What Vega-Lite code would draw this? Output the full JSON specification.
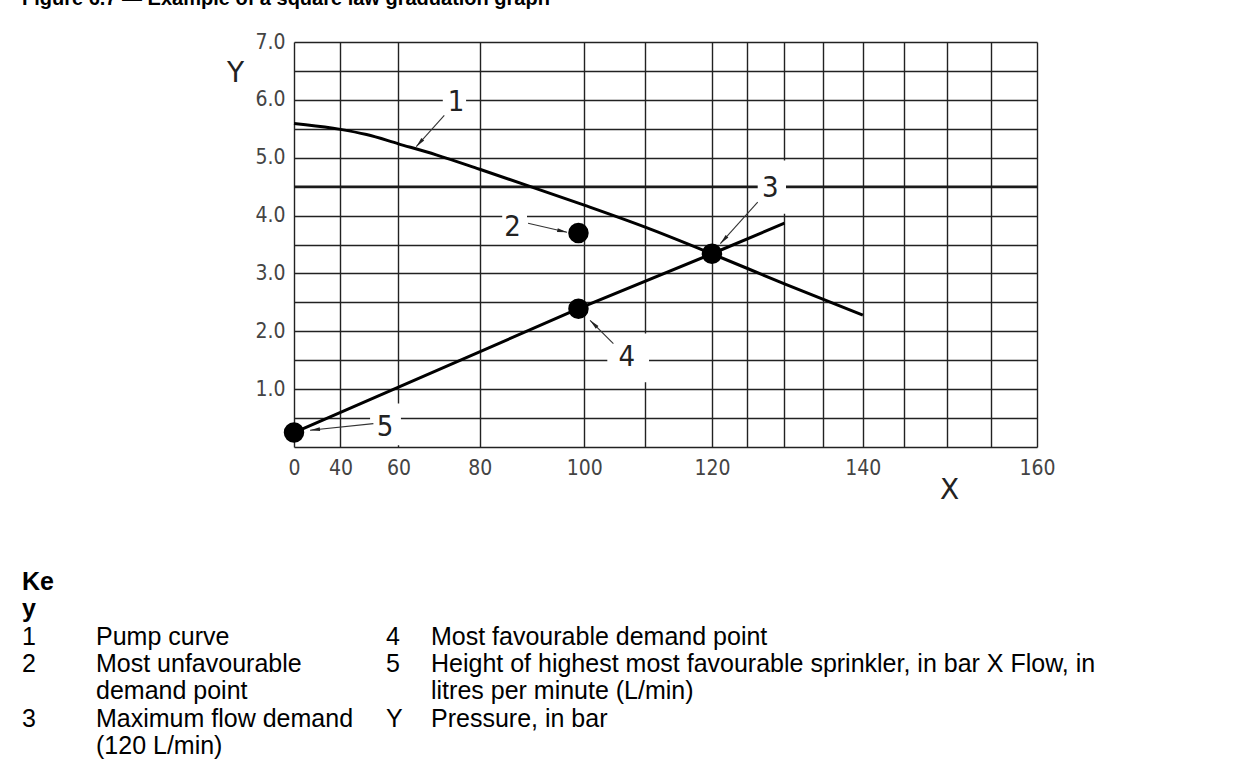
{
  "$schema": "https://vega.github.io/schema/vega-lite/v6.json",
  "background": "white",
  "padding": {"left": 22, "top": -11, "right": 0, "bottom": 0},
  "title": {
    "text": "Figure 6.7 — Example of a square law graduation graph",
    "anchor": "start",
    "frame": "group",
    "font": "Liberation Sans",
    "fontSize": 20,
    "fontWeight": "bold",
    "color": "black",
    "offset": 22
  },
  "config": {
    "view": {"stroke": null},
    "axis": {
      "grid": true,
      "ticks": false,
      "domain": false,
      "gridColor": "#222",
      "gridWidth": 1.4,
      "gridOpacity": 1,
      "labelFont": "DejaVu Sans Condensed, Liberation Sans Narrow, DejaVu Sans",
      "labelFontSize": 21,
      "labelColor": "#444",
      "labelFlush": false,
      "labelOverlap": false,
      "titleFont": "DejaVu Sans, Liberation Sans",
      "titleFontSize": 28,
      "titleFontWeight": "normal",
      "titleColor": "#222",
      "titleAlign": "center",
      "titleBaseline": "middle"
    }
  },
  "datasets": {
    "pump": [
      {"q": 0, "p": 5.59}, {"q": 20, "p": 5.57}, {"q": 40, "p": 5.49}, {"q": 50, "p": 5.40},
      {"q": 60, "p": 5.24}, {"q": 70, "p": 5.05}, {"q": 80, "p": 4.80}, {"q": 90, "p": 4.51},
      {"q": 100, "p": 4.18}, {"q": 110, "p": 3.80}, {"q": 120, "p": 3.34}, {"q": 130, "p": 2.82},
      {"q": 140, "p": 2.28}
    ],
    "demand": [
      {"q": 0, "p": 0.25}, {"q": 99, "p": 2.39}, {"q": 120, "p": 3.34}, {"q": 130, "p": 3.87}
    ],
    "points": [
      {"id": "2", "q": 99, "p": 3.70},
      {"id": "3", "q": 120, "p": 3.34},
      {"id": "4", "q": 99, "p": 2.39},
      {"id": "5", "q": 0, "p": 0.25}
    ],
    "limit": [
      {"q": 0, "q2": 160, "p": 4.5}
    ],
    "boxes": [
      {"id": "1", "q": 71.6, "q2": 77.0, "p": 5.72, "p2": 6.22},
      {"id": "2", "q": 84.7, "q2": 89.6, "p": 3.57, "p2": 4.17},
      {"id": "3", "q": 126.4, "q2": 130.2, "p": 4.03, "p2": 4.95},
      {"id": "4", "q": 103.9, "q2": 110.6, "p": 1.12, "p2": 1.96},
      {"id": "5", "q": 51.2, "q2": 60.7, "p": 0.03, "p2": 0.75}
    ],
    "leaders": [
      {"id": "1", "q": 64.9, "p": 5.19, "q2": 71.96, "p2": 5.73, "bearing": 221},
      {"id": "2", "q": 97.0, "p": 3.711, "q2": 89.8, "p2": 3.866, "bearing": 103},
      {"id": "3", "q": 121.2, "p": 3.515, "q2": 126.4, "p2": 4.234, "bearing": 222},
      {"id": "4", "q": 101.0, "p": 2.19, "q2": 104.9, "p2": 1.787, "bearing": 315},
      {"id": "5", "q": 23.5, "p": 0.289, "q2": 52.3, "p2": 0.404, "bearing": 264}
    ],
    "callouts": [
      {"id": "1", "q": 74.7, "p": 5.96},
      {"id": "2", "q": 86.8, "p": 3.80},
      {"id": "3", "q": 128.1, "p": 4.47},
      {"id": "4", "q": 107.1, "p": 1.56},
      {"id": "5", "q": 56.0, "p": 0.35}
    ],
    "key": [
      {"line": 0, "col": "c1", "label": "Ke"},
      {"line": 1, "col": "c1", "label": "y"},
      {"line": 2, "col": "c1", "label": "1"},
      {"line": 2, "col": "c2", "label": "Pump curve"},
      {"line": 2, "col": "c3", "label": "4"},
      {"line": 2, "col": "c4", "label": "Most favourable demand point"},
      {"line": 3, "col": "c1", "label": "2"},
      {"line": 3, "col": "c2", "label": "Most unfavourable"},
      {"line": 3, "col": "c3", "label": "5"},
      {"line": 3, "col": "c4", "label": "Height of highest most favourable sprinkler, in bar X Flow, in"},
      {"line": 4, "col": "c2", "label": "demand point"},
      {"line": 4, "col": "c4", "label": "litres per minute (L/min)"},
      {"line": 5, "col": "c1", "label": "3"},
      {"line": 5, "col": "c2", "label": "Maximum flow demand"},
      {"line": 5, "col": "c3", "label": "Y"},
      {"line": 5, "col": "c4", "label": "Pressure, in bar"},
      {"line": 6, "col": "c2", "label": "(120 L/min)"}
    ]
  },
  "bounds": "full",
  "spacing": 66,
  "vconcat": [
    {
      "bounds": "flush",
      "spacing": 0,
      "hconcat": [
        {"width": 272, "height": 405, "data": {"values": []}, "mark": "point"},
        {
          "width": 743,
          "height": 405,
          "encoding": {
            "x": {
              "field": "q",
              "type": "quantitative",
              "scale": {"type": "pow", "exponent": 2, "domain": [0, 160], "nice": false, "zero": false},
              "axis": {
                "values": [0, 40, 60, 80, 100, 110, 120, 125, 130, 135, 140, 145, 150, 155, 160],
                "labelExpr": "indexof([0,40,60,80,100,120,140,160], datum.value) >= 0 ? datum.label : ''",
                "format": "d",
                "labelPadding": 10,
                "title": "X",
                "titleX": 655,
                "titleY": 43
              }
            },
            "y": {
              "field": "p",
              "type": "quantitative",
              "scale": {"domain": [0, 7], "nice": false, "zero": false},
              "axis": {
                "values": [0, 0.5, 1, 1.5, 2, 2.5, 3, 3.5, 4, 4.5, 5, 5.5, 6, 6.5, 7],
                "labelExpr": "datum.value >= 1 && datum.value % 1 == 0 ? format(datum.value, '.1f') : ''",
                "labelPadding": 9,
                "title": "Y",
                "titleAngle": 0,
                "titleX": -59,
                "titleY": 31
              }
            }
          },
          "layer": [
            {
              "data": {"name": "limit"},
              "mark": {"type": "rule", "color": "#1a1a1a", "strokeWidth": 2.4},
              "encoding": {"x2": {"field": "q2"}}
            },
            {
              "data": {"name": "boxes"},
              "mark": {"type": "rect", "color": "white", "opacity": 1},
              "encoding": {"x2": {"field": "q2"}, "y2": {"field": "p2"}}
            },
            {
              "data": {"name": "pump"},
              "mark": {"type": "line", "color": "black", "strokeWidth": 3, "interpolate": "monotone"}
            },
            {
              "data": {"name": "demand"},
              "mark": {"type": "line", "color": "black", "strokeWidth": 3}
            },
            {
              "data": {"name": "points"},
              "mark": {"type": "circle", "color": "black", "opacity": 1, "size": 420}
            },
            {
              "data": {"name": "leaders"},
              "mark": {"type": "rule", "color": "#333", "strokeWidth": 1.1},
              "encoding": {"x2": {"field": "q2"}, "y2": {"field": "p2"}}
            },
            {
              "data": {"name": "leaders"},
              "mark": {"type": "point", "shape": "M0,0L0.36,1.9L-0.36,1.9Z", "filled": true, "color": "#222", "opacity": 1, "size": 110},
              "encoding": {"angle": {"field": "bearing", "type": "quantitative", "scale": null}}
            },
            {
              "data": {"name": "callouts"},
              "mark": {"type": "text", "font": "DejaVu Sans Condensed, Liberation Sans Narrow, DejaVu Sans", "fontSize": 29, "color": "#222", "align": "center", "baseline": "middle"},
              "encoding": {"text": {"field": "id"}}
            }
          ]
        }
      ]
    },
    {
      "bounds": "flush",
      "spacing": 0,
      "hconcat": [
        {
          "width": 74, "height": 164,
          "data": {"name": "key"},
          "transform": [{"filter": "datum.col == 'c1'"}],
          "encoding": {
            "x": {"field": "col", "type": "nominal", "scale": {"type": "point", "padding": 0, "align": 0}, "axis": null},
            "y": {"field": "line", "type": "ordinal", "scale": {"type": "point", "domain": [0, 1, 2, 3, 4, 5, 6], "padding": 0}, "axis": null},
            "text": {"field": "label"}
          },
          "layer": [
            {
              "transform": [{"filter": "datum.line < 2"}],
              "mark": {"type": "text", "font": "Liberation Sans", "fontSize": 25, "fontWeight": "bold", "align": "left", "baseline": "middle", "color": "black"}
            },
            {
              "transform": [{"filter": "datum.line >= 2"}],
              "mark": {"type": "text", "font": "Liberation Sans", "fontSize": 25, "align": "left", "baseline": "middle", "color": "black"}
            }
          ]
        },
        {
          "width": 290, "height": 164,
          "data": {"name": "key"},
          "transform": [{"filter": "datum.col == 'c2'"}],
          "mark": {"type": "text", "font": "Liberation Sans", "fontSize": 25, "align": "left", "baseline": "middle", "color": "black"},
          "encoding": {
            "x": {"field": "col", "type": "nominal", "scale": {"type": "point", "padding": 0, "align": 0}, "axis": null},
            "y": {"field": "line", "type": "ordinal", "scale": {"type": "point", "domain": [0, 1, 2, 3, 4, 5, 6], "padding": 0}, "axis": null},
            "text": {"field": "label"}
          }
        },
        {
          "width": 45, "height": 164,
          "data": {"name": "key"},
          "transform": [{"filter": "datum.col == 'c3'"}],
          "mark": {"type": "text", "font": "Liberation Sans", "fontSize": 25, "align": "left", "baseline": "middle", "color": "black"},
          "encoding": {
            "x": {"field": "col", "type": "nominal", "scale": {"type": "point", "padding": 0, "align": 0}, "axis": null},
            "y": {"field": "line", "type": "ordinal", "scale": {"type": "point", "domain": [0, 1, 2, 3, 4, 5, 6], "padding": 0}, "axis": null},
            "text": {"field": "label"}
          }
        },
        {
          "width": 790, "height": 164,
          "data": {"name": "key"},
          "transform": [{"filter": "datum.col == 'c4'"}],
          "mark": {"type": "text", "font": "Liberation Sans", "fontSize": 25, "align": "left", "baseline": "middle", "color": "black"},
          "encoding": {
            "x": {"field": "col", "type": "nominal", "scale": {"type": "point", "padding": 0, "align": 0}, "axis": null},
            "y": {"field": "line", "type": "ordinal", "scale": {"type": "point", "domain": [0, 1, 2, 3, 4, 5, 6], "padding": 0}, "axis": null},
            "text": {"field": "label"}
          }
        }
      ]
    }
  ]
}
